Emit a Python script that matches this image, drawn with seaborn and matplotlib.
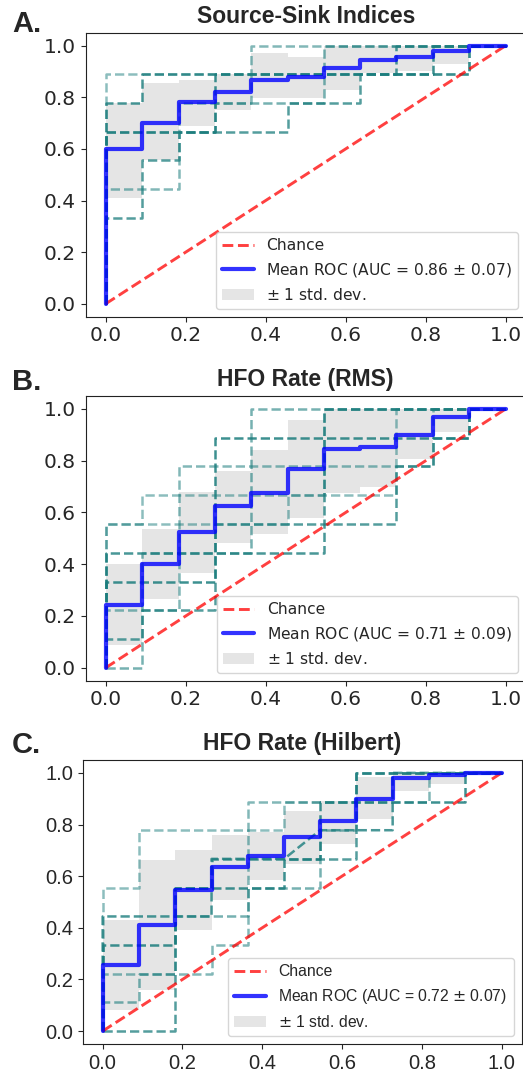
import matplotlib
matplotlib.use('Agg')
import matplotlib.pyplot as plt
import seaborn as sns
from matplotlib.patches import Patch
from matplotlib.lines import Line2D

sns.set_style('ticks')
plt.rcParams['font.family'] = ['DejaVu Sans']

# fpr points where the mean curve / band change (11 negatives per fold)
fpr_grid = [0.0, 0.091, 0.182, 0.273, 0.364, 0.455, 0.545, 0.636, 0.727, 0.818, 0.909, 1.0]

# ---- Panel A: Source-Sink Indices ----
a_mean = [0.60, 0.70, 0.78, 0.822, 0.867, 0.878, 0.912, 0.945, 0.956, 0.979, 1.0]
a_lower = [0.41, 0.558, 0.687, 0.751, 0.796, 0.796, 0.829, 0.895, 0.90, 0.93, 1.0]
a_upper = [0.777, 0.854, 0.867, 0.89, 0.97, 0.957, 1.0, 1.0, 1.0, 1.0, 1.0]
a_folds = [
    ([0, 0, 0.909, 0.909, 1], [0, 0.889, 0.889, 1, 1]),
    ([0, 0, 0.091, 0.091, 0.727, 0.727, 1], [0, 0.778, 0.778, 0.889, 0.889, 1, 1]),
    ([0, 0, 0.273, 0.273, 0.818, 0.818, 1], [0, 0.667, 0.667, 0.889, 0.889, 1, 1]),
    ([0, 0, 0.182, 0.182, 0.364, 0.364, 1], [0, 0.444, 0.444, 0.778, 0.778, 1, 1]),
    ([0, 0, 0.091, 0.091, 0.182, 0.182, 0.455, 0.455, 0.636, 0.636, 0.909, 0.909, 1],
     [0, 0.333, 0.333, 0.556, 0.556, 0.667, 0.667, 0.778, 0.778, 0.889, 0.889, 1, 1]),
    ([0, 0, 0.273, 0.273, 0.545, 0.545, 1],
     [0, 0.667, 0.667, 0.778, 0.778, 1, 1]),
]
a_auc = (0.86, 0.07)

# ---- Panel B: HFO Rate (RMS) ----
b_mean = [0.242, 0.40, 0.523, 0.625, 0.677, 0.768, 0.844, 0.854, 0.90, 0.968, 1.0]
b_lower = [0.088, 0.264, 0.365, 0.483, 0.517, 0.577, 0.674, 0.70, 0.805, 0.912, 1.0]
b_upper = [0.40, 0.535, 0.68, 0.76, 0.842, 0.957, 1.0, 1.0, 1.0, 1.0, 1.0]
b_folds = [
    ([0, 0, 0.091, 0.091, 0.545, 0.545, 1], [0, 0.556, 0.556, 0.667, 0.667, 1, 1]),
    ([0, 0, 0.545, 0.545, 1], [0, 0.444, 0.444, 1, 1]),
    ([0, 0, 0.273, 0.273, 0.909, 0.909, 1], [0, 0.333, 0.333, 0.889, 0.889, 1, 1]),
    ([0, 0, 0.182, 0.182, 0.818, 0.818, 1], [0, 0.222, 0.222, 0.778, 0.778, 1, 1]),
    ([0, 0, 0.091, 0.091, 0.273, 0.273, 0.727, 0.727, 0.818, 0.818, 0.909, 0.909, 1],
     [0, 0.111, 0.111, 0.222, 0.222, 0.556, 0.556, 0.778, 0.778, 0.889, 0.889, 1, 1]),
    ([0, 0.091, 0.091, 0.364, 0.364, 1], [0, 0, 0.444, 0.444, 1, 1]),
    ([0, 0, 0.455, 0.455, 0.636, 0.636, 0.727, 0.727, 1], [0, 0.556, 0.556, 0.667, 0.667, 0.667, 0.667, 1, 1]),
]
b_auc = (0.71, 0.09)

# ---- Panel C: HFO Rate (Hilbert) ----
c_mean = [0.255, 0.412, 0.545, 0.635, 0.678, 0.75, 0.813, 0.90, 0.98, 0.99, 1.0]
c_lower = [0.081, 0.161, 0.39, 0.506, 0.584, 0.648, 0.723, 0.822, 0.931, 0.957, 1.0]
c_upper = [0.429, 0.661, 0.70, 0.758, 0.77, 0.854, 0.893, 0.983, 1.0, 1.0, 1.0]
c_folds = [
    ([0, 0, 0.091, 0.091, 0.455, 0.455, 0.636, 0.636, 1], [0, 0.556, 0.556, 0.778, 0.778, 0.889, 0.889, 1, 1]),
    ([0, 0, 0.273, 0.273, 0.455, 0.545, 0.727, 0.727, 1], [0, 0.444, 0.444, 0.667, 0.667, 0.778, 0.778, 1, 1]),
    ([0, 0, 0.182, 0.182, 0.455, 0.455, 0.545, 0.545, 0.909, 0.909, 1],
     [0, 0.333, 0.333, 0.556, 0.556, 0.667, 0.667, 0.889, 0.889, 1, 1]),
    ([0, 0, 0.273, 0.273, 0.364, 0.364, 0.818, 0.818, 1], [0, 0.222, 0.222, 0.333, 0.333, 0.889, 0.889, 1, 1]),
    ([0, 0.182, 0.182, 0.273, 0.273, 0.636, 0.636, 1], [0, 0, 0.556, 0.556, 0.667, 0.667, 1, 1]),
    ([0, 0, 0.091, 0.091, 0.182, 0.182, 0.364, 0.364, 0.545, 0.545, 0.636, 0.636, 1],
     [0, 0.111, 0.111, 0.222, 0.222, 0.444, 0.444, 0.556, 0.556, 0.778, 0.778, 1, 1]),
]
c_auc = (0.72, 0.07)

fold_alpha = [0.5, 0.8, 0.85, 0.55, 0.75, 0.6, 0.5]
W, H = 523, 1071


def draw_panel(ax, title, folds, mean, lower, upper, auc, font):
    # +-1 std band
    ax.fill_between(fpr_grid, lower + [lower[-1]], upper + [upper[-1]], step='post',
                    color='grey', alpha=0.2, lw=0, zorder=1)
    # each fold's ROC
    for (fx, fy), a in zip(folds, fold_alpha):
        sns.lineplot(x=fx, y=fy, ax=ax, sort=False, estimator=None, color='#1b7d7d',
                     alpha=a, lw=1.8, ls='--', zorder=2)
    sns.lineplot(x=[0, 1], y=[0, 1], ax=ax, sort=False, estimator=None, color='red',
                 alpha=0.75, lw=2.1, ls='--', zorder=3)
    mx = [0.0] + fpr_grid
    my = [0.0] + mean + [mean[-1]]
    sns.lineplot(x=mx, y=my, ax=ax, sort=False, estimator=None, color='blue',
                 alpha=0.8, lw=3, drawstyle='steps-post', zorder=4)

    ax.set_xlim(-0.05, 1.05)
    ax.set_ylim(-0.05, 1.05)
    ticks = [0.0, 0.2, 0.4, 0.6, 0.8, 1.0]
    ax.set_xticks(ticks)
    ax.set_yticks(ticks)
    ax.set_xticklabels([f'{t:.1f}' for t in ticks], fontsize=14.5, family=font)
    ax.set_yticklabels([f'{t:.1f}' for t in ticks], fontsize=14.5, family=font)
    for s in ax.spines.values():
        s.set_visible(True)
        s.set_color('#222222')

    handles = [
        Line2D([], [], color='red', alpha=0.75, lw=2.1, ls='--'),
        Line2D([], [], color='blue', alpha=0.8, lw=3),
        Patch(facecolor='grey', alpha=0.2, lw=0),
    ]
    labels = ['Chance', f'Mean ROC (AUC = {auc[0]:.2f} $\\pm$ {auc[1]:.2f})', r'$\pm$ 1 std. dev.']
    fs = 11.3 if font == 'Liberation Sans' else 11.2
    ax.legend(handles, labels, loc='lower right', prop={'family': font, 'size': fs})
    ax.set_title(title, fontsize=16.5, fontweight='bold', family='Liberation Sans', pad=7)


fig = plt.figure(figsize=(W / 100, H / 100), dpi=100)

panels = [
    ('A.', 'Source-Sink Indices', a_folds, a_mean, a_lower, a_upper, a_auc, 'DejaVu Sans',
     (85.7, 316.7, 440, 284), 32),
    ('B.', 'HFO Rate (RMS)', b_folds, b_mean, b_lower, b_upper, b_auc, 'DejaVu Sans',
     (85.7, 680.7, 440, 284.7), 390),
    ('C.', 'HFO Rate (Hilbert)', c_folds, c_mean, c_lower, c_upper, c_auc, 'Liberation Sans',
     (82.7, 1044, 438.8, 284), 753),
]

for letter, title, folds, mean, lo, up, auc, font, (l, b, w, h), base in panels:
    ax = fig.add_axes([l / W, 1 - b / H, w / W, h / H])
    draw_panel(ax, title, folds, mean, lo, up, auc, font)
    fig.text(12 / W, 1 - base / H, letter, fontsize=21, fontweight='bold',
             family='Liberation Sans', ha='left', va='baseline')

fig.savefig('out.png', dpi=100)
